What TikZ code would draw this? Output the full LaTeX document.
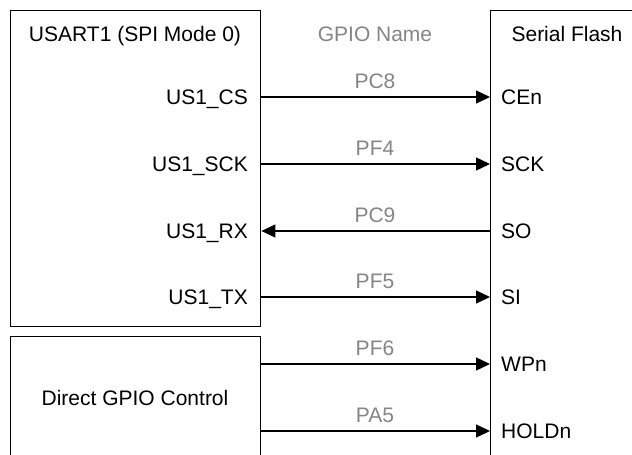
\documentclass[tikz,border=0pt]{standalone}
\usepackage{fontspec}
\setmainfont{Liberation Sans}
\usetikzlibrary{arrows.meta}
\definecolor{gpiogray}{HTML}{858585}
\begin{document}
\begin{tikzpicture}[x=1pt,y=-1pt,
  box/.style={draw,line width=1.4pt,inner sep=0pt,anchor=north west},
  txt/.style={font=\fontsize{21}{24}\selectfont,inner sep=0pt},
  gpio/.style={txt,text=gpiogray,anchor=base},
  pinl/.style={txt,anchor=base east},
  pinr/.style={txt,anchor=base west},
  sig/.style={line width=1.4pt,-{Triangle[length=14pt,width=13pt]}},
]
\useasboundingbox (0,0) rectangle (632,455);
\clip (0,0) rectangle (632,455);
% boxes
\node[box,minimum width=250pt,minimum height=316pt] (usart) at (10,10) {};
\node[box,minimum width=250pt,minimum height=150pt] (direct) at (10,336) {};
\node[box,minimum width=170pt,minimum height=480pt] (flash) at (490,10) {};
% titles
\node[txt,anchor=base] (tusart) at (135,41) {USART1 (SPI Mode 0)};
\node[txt,anchor=base,text=gpiogray] (tgpio) at (375,41) {GPIO Name};
\node[txt,anchor=base] (tflash) at (567,41) {Serial Flash};
\node[txt,anchor=base] (tdirect) at (135,405) {Direct GPIO Control};
% rows
\coordinate (r1) at (0,97);
\coordinate (r2) at (0,164);
\coordinate (r3) at (0,231);
\coordinate (r4) at (0,297);
\coordinate (r5) at (0,364);
\coordinate (r6) at (0,431);
% left pins
\node[pinl] (cs)  at (248,104) {US1\_CS};
\node[pinl] (sck) at (248,171) {US1\_SCK};
\node[pinl] (rx)  at (248,238) {US1\_RX};
\node[pinl] (tx)  at (248,304) {US1\_TX};
% right pins
\node[pinr] (cen)   at (501,104) {CEn};
\node[pinr] (fsck)  at (501,171) {SCK};
\node[pinr] (so)    at (501,238) {SO};
\node[pinr] (si)    at (501,304) {SI};
\node[pinr] (wpn)   at (501,371) {WPn};
\node[pinr] (holdn) at (501,438) {HOLDn};
% gpio names
\node[gpio] (pc8) at (375,88) {PC8};
\node[gpio] (pf4) at (375,155) {PF4};
\node[gpio] (pc9) at (375,222) {PC9};
\node[gpio] (pf5) at (375,288) {PF5};
\node[gpio] (pf6) at (375,355) {PF6};
\node[gpio] (pa5) at (375,422) {PA5};
% connectors
\draw[sig] (usart.east |- r1) -- (flash.west |- r1);
\draw[sig] (usart.east |- r2) -- (flash.west |- r2);
\draw[sig] (flash.west |- r3) -- (usart.east |- r3);
\draw[sig] (usart.east |- r4) -- (flash.west |- r4);
\draw[sig] (direct.east |- r5) -- (flash.west |- r5);
\draw[sig] (direct.east |- r6) -- (flash.west |- r6);
\end{tikzpicture}
\end{document}
